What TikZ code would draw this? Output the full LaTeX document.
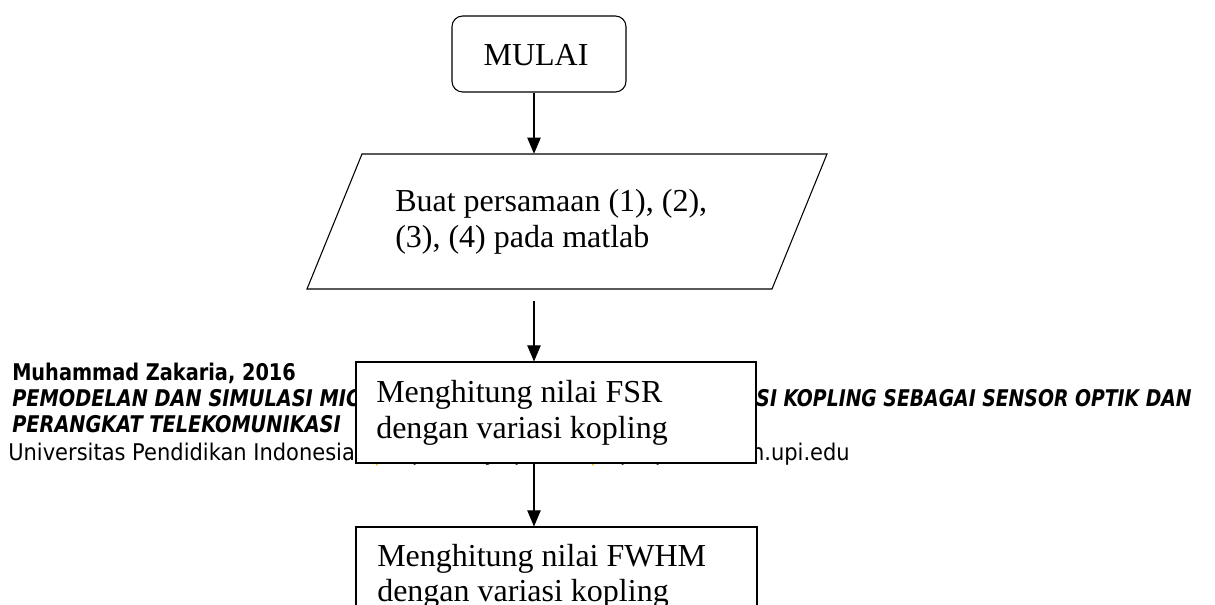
\documentclass[tikz,border=0pt]{standalone}
\usepackage{fontspec}
\setmainfont{Liberation Serif}
\newfontfamily\footreg{DejaVu Sans}[FakeStretch=0.913]
\newfontfamily\footbold{DejaVu Sans}[FakeStretch=0.84]
\newfontfamily\footboldn{DejaVu Sans}[FakeStretch=0.818]
\usetikzlibrary{arrows.meta}
\definecolor{baryellow}{HTML}{FFC000}
\tikzset{
  boxline/.style={draw=black, line width=0.8pt},
  flowtext/.style={inner sep=0pt, anchor=base west, font=\fontsize{24pt}{27.6pt}\selectfont},
  foottext/.style={inner sep=0pt, anchor=base west, font=\fontsize{17.25pt}{19.9pt}\selectfont},
  arr/.style={draw=black, line width=0.8pt, -{Triangle[length=12pt,width=10pt]}},
}
\begin{document}
\begin{tikzpicture}[x=0.75pt, y=-0.75pt]
\useasboundingbox (0,0) rectangle (1215,605);
\clip (0,0) rectangle (1215,605);
\fill[white] (0,0) rectangle (1215,605);

% footer text (behind the boxes)
\node[foottext] (f1) at (12,381) {\footbold\bfseries Muhammad Zakaria, 2016};
\node[foottext] (f2a) at (12,407) {\footbold\bfseries\itshape PEMODELAN DAN SIMULASI MIC};
\node[foottext, anchor=base east] (f2b) at (1192,407) {\footboldn\bfseries\itshape SI KOPLING SEBAGAI SENSOR OPTIK DAN};
\node[foottext] (f3) at (12,433) {\footbold\bfseries\itshape PERANGKAT TELEKOMUNIKASI};
\node[foottext] (f4a) at (8,461) {\footreg Universitas Pendidikan Indonesia};
\node[foottext, anchor=base, text=baryellow] (bar1) at (377,461) {\footreg |};
\node[foottext, anchor=base] (f4b) at (485,461) {\footreg repository.upi.edu};
\node[foottext, anchor=base, text=baryellow] (bar2) at (593,461) {\footreg |};
\node[foottext, anchor=base east] (f4c) at (850,461) {\footreg perpustakaan.upi.edu};

\coordinate (colx) at (534,0);

% MULAI
\node[boxline, fill=white, rounded corners=8pt, minimum width=130.5pt, minimum height=57pt, inner sep=0pt] (mulai) at (539,54) {};
\node[flowtext, anchor=base] (mulaitext) at (536,66) {MULAI};

% parallelogram
\node[inner sep=0pt, minimum width=348.75pt, minimum height=101.25pt] (para) at (567,221.5) {};
\draw[boxline, fill=white] (362,154) -- (827,154) -- (772,289) -- (307,289) -- cycle;
\node[flowtext] (paratext1) at (395,212) {Buat persamaan (1), (2),};
\node[flowtext] (paratext2) at (395,248) {(3), (4) pada matlab};

% FSR box
\node[boxline, fill=white, minimum width=300pt, minimum height=75.75pt, inner sep=0pt] (fsr) at (556,412.5) {};
\node[flowtext] (fsrtext1) at (376,403) {Menghitung nilai FSR};
\node[flowtext] (fsrtext2) at (376,439) {dengan variasi kopling};

% FWHM box
\node[boxline, fill=white, minimum width=300.75pt, minimum height=84.75pt, inner sep=0pt] (fwhm) at (556.5,583.5) {};
\node[flowtext] (fwhmtext1) at (377,567) {Menghitung nilai FWHM};
\node[flowtext] (fwhmtext2) at (377,602) {dengan variasi kopling};

% connectors
\draw[arr] (mulai.south -| colx) -- (para.north -| colx);
\draw[arr, shorten <=9pt] (para.south -| colx) -- (fsr.north -| colx);
\draw[arr] (fsr.south -| colx) -- (fwhm.north -| colx);
\end{tikzpicture}
\end{document}
